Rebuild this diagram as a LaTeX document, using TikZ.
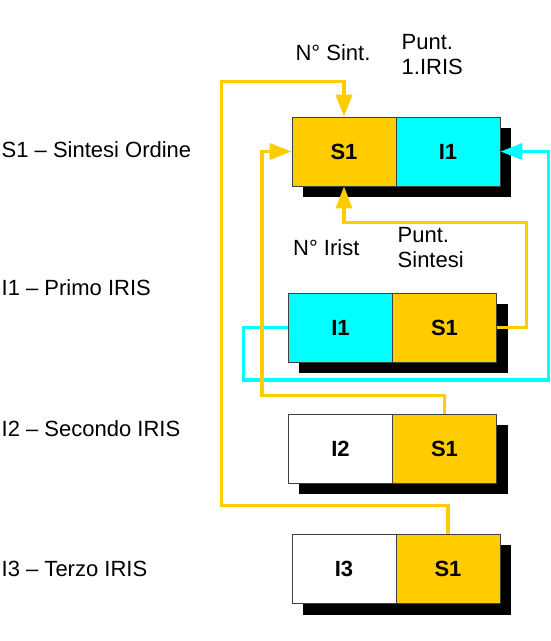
\documentclass[tikz,border=0pt]{standalone}
\usepackage{fontspec}
\setmainfont{Liberation Sans}
\usetikzlibrary{arrows.meta,calc}
\definecolor{gold}{HTML}{FFCC00}
\definecolor{aqua}{HTML}{00FFFF}
\begin{document}
\begin{tikzpicture}[x=1pt,y=-1pt,
  cell/.style={draw=black!75,line width=0.8pt,inner sep=0pt,minimum width=104pt,minimum height=69pt,
    font=\bfseries\fontsize{22}{26}\selectfont},
  ycell/.style={cell,fill=gold},
  ccell/.style={cell,fill=aqua},
  wcell/.style={cell,fill=white},
  lbl/.style={inner sep=0pt,font=\fontsize{22}{25}\selectfont,align=left},
  yl/.style={gold,line width=3.5pt,-{Triangle[length=22pt,width=16pt]}},
  cl/.style={aqua,line width=3.5pt,-{Triangle[length=22pt,width=16pt]}},
  shadow/.style={fill=black}]
\useasboundingbox (0,0) rectangle (551,641);
% shadows
\fill[shadow] (303,128) rectangle (511,197);
\fill[shadow] (299,304) rectangle (508,373);
\fill[shadow] (299,425) rectangle (508,494);
\fill[shadow] (303,545) rectangle (511,615);
% boxes
\node[ycell] (a1) at (344,151.5) {S1};
\node[ccell] (b1) at (448,151.5) {I1};
\node[ccell] (a2) at (340.5,327.5) {I1};
\node[ycell] (b2) at (444.5,327.5) {S1};
\node[wcell] (a3) at (340.5,448.5) {I2};
\node[ycell] (b3) at (444.5,448.5) {S1};
\node[wcell] (a4) at (344,569) {I3};
\node[ycell] (b4) at (448,569) {S1};
% labels
\node[lbl,anchor=west] (l1) at (1.5,150) {S1 – Sintesi Ordine};
\node[lbl,anchor=west] (l2) at (1.5,288) {I1 – Primo IRIS};
\node[lbl,anchor=west] (l3) at (1.5,429) {I2 – Secondo IRIS};
\node[lbl,anchor=west] (l4) at (1.5,569) {I3 – Terzo IRIS};
\node[lbl] (nsint) at (333,53) {N° Sint.};
\node[lbl,anchor=west] (p1) at (401.5,55) {Punt.\\1.IRIS};
\node[lbl,anchor=west] (nirist) at (293,248) {N° Irist};
\node[lbl,anchor=west] (psint) at (397.5,248) {Punt.\\Sintesi};
% connectors
\draw[cl] (a2.west) -| (243.3,380) -| (548.3,151.5) -- (b1.east);
\draw[yl] (b4.north) -- ++(0,-28.5) -| (221.7,81.7) -| (a1.north);
\draw[yl] (b3.north) -- ++(0,-18) -| (262,151.5) -- (a1.west);
\draw[yl] (b2.east) -| (526.7,222.3) -| (a1.south);
\end{tikzpicture}
\end{document}
